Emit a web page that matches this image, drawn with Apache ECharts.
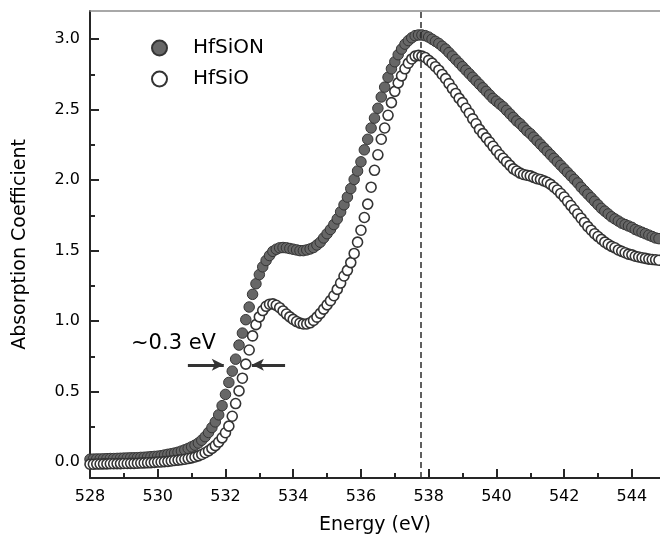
<!DOCTYPE html>
<html>
<head>
<meta charset="utf-8">
<script src="https://cdn.jsdelivr.net/npm/echarts@6/dist/echarts.min.js"></script>
<style>
  html, body { margin: 0; padding: 0; background: #fff; }
  #chart { width: 660px; height: 546px; }
</style>
</head>
<body>
<div id="chart"></div>
<script>
// photon energy (eV), 0.1 eV steps
const energy = [
  528.0, 528.1, 528.2, 528.3, 528.4, 528.5, 528.6, 528.7, 528.8, 528.9,
  529.0, 529.1, 529.2, 529.3, 529.4, 529.5, 529.6, 529.7, 529.8, 529.9,
  530.0, 530.1, 530.2, 530.3, 530.4, 530.5, 530.6, 530.7, 530.8, 530.9,
  531.0, 531.1, 531.2, 531.3, 531.4, 531.5, 531.6, 531.7, 531.8, 531.9,
  532.0, 532.1, 532.2, 532.3, 532.4, 532.5, 532.6, 532.7, 532.8, 532.9,
  533.0, 533.1, 533.2, 533.3, 533.4, 533.5, 533.6, 533.7, 533.8, 533.9,
  534.0, 534.1, 534.2, 534.3, 534.4, 534.5, 534.6, 534.7, 534.8, 534.9,
  535.0, 535.1, 535.2, 535.3, 535.4, 535.5, 535.6, 535.7, 535.8, 535.9,
  536.0, 536.1, 536.2, 536.3, 536.4, 536.5, 536.6, 536.7, 536.8, 536.9,
  537.0, 537.1, 537.2, 537.3, 537.4, 537.5, 537.6, 537.7, 537.8, 537.9,
  538.0, 538.1, 538.2, 538.3, 538.4, 538.5, 538.6, 538.7, 538.8, 538.9,
  539.0, 539.1, 539.2, 539.3, 539.4, 539.5, 539.6, 539.7, 539.8, 539.9,
  540.0, 540.1, 540.2, 540.3, 540.4, 540.5, 540.6, 540.7, 540.8, 540.9,
  541.0, 541.1, 541.2, 541.3, 541.4, 541.5, 541.6, 541.7, 541.8, 541.9,
  542.0, 542.1, 542.2, 542.3, 542.4, 542.5, 542.6, 542.7, 542.8, 542.9,
  543.0, 543.1, 543.2, 543.3, 543.4, 543.5, 543.6, 543.7, 543.8, 543.9,
  544.0, 544.1, 544.2, 544.3, 544.4, 544.5, 544.6, 544.7, 544.8
];

// HfSiON (filled circles)
const hfsion = [
  0.020, 0.021, 0.022, 0.022, 0.023, 0.024, 0.025, 0.025, 0.026, 0.027,
  0.028, 0.029, 0.030, 0.030, 0.031, 0.033, 0.034, 0.036, 0.038, 0.040,
  0.042, 0.045, 0.050, 0.055, 0.059, 0.064, 0.070, 0.078, 0.087, 0.097,
  0.108, 0.120, 0.135, 0.155, 0.180, 0.210, 0.245, 0.285, 0.335, 0.400,
  0.480, 0.565, 0.645, 0.730, 0.830, 0.915, 1.010, 1.100, 1.190, 1.265,
  1.330, 1.385, 1.430, 1.465, 1.495, 1.510, 1.520, 1.522, 1.520, 1.515,
  1.510, 1.505, 1.500, 1.500, 1.505, 1.512, 1.522, 1.540, 1.560, 1.590,
  1.620, 1.650, 1.685, 1.725, 1.775, 1.825, 1.880, 1.940, 2.005, 2.065,
  2.130, 2.215, 2.290, 2.370, 2.440, 2.510, 2.590, 2.660, 2.730, 2.790,
  2.840, 2.890, 2.930, 2.965, 2.990, 3.010, 3.025, 3.030, 3.030, 3.025,
  3.015, 3.000, 2.985, 2.970, 2.950, 2.930, 2.905, 2.880, 2.855, 2.830,
  2.805, 2.780, 2.755, 2.730, 2.705, 2.680, 2.655, 2.630, 2.605, 2.580,
  2.560, 2.540, 2.520, 2.495, 2.470, 2.445, 2.420, 2.400, 2.375, 2.350,
  2.330, 2.305, 2.280, 2.255, 2.230, 2.205, 2.180, 2.155, 2.130, 2.105,
  2.080, 2.055, 2.030, 2.005, 1.980, 1.950, 1.925, 1.900, 1.875, 1.850,
  1.825, 1.800, 1.780, 1.760, 1.740, 1.725, 1.710, 1.695, 1.685, 1.675,
  1.665, 1.650, 1.640, 1.630, 1.620, 1.610, 1.600, 1.590, 1.585
];

// HfSiO (open circles)
const hfsio = [
  -0.015, -0.015, -0.014, -0.014, -0.013, -0.013, -0.012, -0.012, -0.011, -0.011,
  -0.010, -0.010, -0.009, -0.009, -0.008, -0.007, -0.006, -0.005, -0.004, -0.002,
  0.000, 0.001, 0.003, 0.005, 0.008, 0.011, 0.014, 0.017, 0.020, 0.025,
  0.030, 0.036, 0.044, 0.054, 0.066, 0.080, 0.097, 0.117, 0.142, 0.172,
  0.208, 0.255, 0.325, 0.415, 0.505, 0.595, 0.695, 0.795, 0.895, 0.975,
  1.030, 1.075, 1.105, 1.120, 1.122, 1.112, 1.095, 1.072, 1.050, 1.030,
  1.012, 0.997, 0.986, 0.980, 0.980, 0.988, 1.005, 1.028, 1.055, 1.085,
  1.115, 1.145, 1.180, 1.225, 1.270, 1.320, 1.360, 1.415, 1.480, 1.560,
  1.645, 1.735, 1.830, 1.950, 2.070, 2.180, 2.290, 2.370, 2.460, 2.550,
  2.630, 2.690, 2.740, 2.790, 2.830, 2.860, 2.880, 2.885, 2.880, 2.870,
  2.850, 2.830, 2.805, 2.780, 2.750, 2.720, 2.685, 2.650, 2.615, 2.580,
  2.550, 2.510, 2.475, 2.435, 2.400, 2.360, 2.330, 2.300, 2.270, 2.240,
  2.210, 2.180, 2.155, 2.130, 2.105, 2.080, 2.065, 2.050, 2.040, 2.035,
  2.030, 2.020, 2.010, 2.005, 1.995, 1.985, 1.970, 1.950, 1.930, 1.905,
  1.880, 1.850, 1.820, 1.790, 1.760, 1.730, 1.700, 1.670, 1.645, 1.620,
  1.600, 1.580, 1.560, 1.545, 1.530, 1.520, 1.505, 1.495, 1.485, 1.475,
  1.470, 1.460, 1.455, 1.450, 1.445, 1.440, 1.437, 1.435, 1.432
];

const xMajor = [528, 530, 532, 534, 536, 538, 540, 542, 544];
const xMinor = [529, 531, 533, 535, 537, 539, 541, 543];
const yMajor = [0, 0.5, 1.0, 1.5, 2.0, 2.5, 3.0];
const yMinor = [0.25, 0.75, 1.25, 1.75, 2.25, 2.75];

const peakEnergy = 537.76;
// the ~0.3 eV shift arrows: [from, to] energies at one absorption level
const shiftLevel = 0.69;
const arrowLeft = [530.89, 531.95];
const arrowRight = [533.76, 532.78];

const FONT = 'DejaVu Sans';
const X_MIN = 528, X_MAX = 544.83;
const Y_MIN = -0.113, Y_MAX = 3.2;

const chart = echarts.init(document.getElementById('chart'));

function pairs(ys) {
  return energy.map((e, i) => [e, ys[i]]);
}

const axisDark = { color: '#262626', width: 2 };

const option = {
  animation: false,
  backgroundColor: '#fff',
  grid: { left: 90, right: 0, top: 11, bottom: 68 },
  legend: {
    orient: 'vertical',
    left: 146,
    top: 33,
    itemWidth: 15,
    itemHeight: 15,
    itemGap: 11,
    selectedMode: false,
    textStyle: { fontFamily: FONT, fontSize: 20, color: '#000', padding: [0, 0, 0, 21], lineHeight: 20 },
    data: ['HfSiON', 'HfSiO']
  },
  xAxis: [
    {
      type: 'value', min: X_MIN, max: X_MAX, position: 'bottom',
      name: 'Energy (eV)', nameLocation: 'middle', nameGap: 38,
      nameTextStyle: { fontFamily: FONT, fontSize: 19, color: '#000' },
      axisLine: { show: true, onZero: false, lineStyle: axisDark },
      axisTick: { show: true, inside: true, length: 9, customValues: xMajor, lineStyle: axisDark },
      axisLabel: { customValues: xMajor, margin: 11, fontFamily: FONT, fontSize: 16, color: '#000' },
      splitLine: { show: false }
    },
    {
      type: 'value', min: X_MIN, max: X_MAX, position: 'bottom',
      axisLine: { show: false, onZero: false },
      axisTick: { show: true, inside: true, length: 5, customValues: xMinor, lineStyle: axisDark },
      axisLabel: { show: false },
      splitLine: { show: false }
    },
    {
      type: 'value', min: X_MIN, max: X_MAX, position: 'top',
      axisLine: { show: true, onZero: false, lineStyle: { color: '#8c8c8c', width: 1.5 } },
      axisTick: { show: false },
      axisLabel: { show: false },
      splitLine: { show: false }
    }
  ],
  yAxis: [
    {
      type: 'value', min: Y_MIN, max: Y_MAX, position: 'left',
      name: 'Absorption Coefficient', nameLocation: 'middle', nameGap: 60,
      nameTextStyle: { fontFamily: FONT, fontSize: 19, color: '#000' },
      axisLine: { show: true, onZero: false, lineStyle: axisDark },
      axisTick: { show: true, inside: true, length: 9, customValues: yMajor, lineStyle: axisDark },
      axisLabel: {
        customValues: yMajor, margin: 10, fontFamily: FONT, fontSize: 16, color: '#000',
        formatter: (v) => v.toFixed(1)
      },
      splitLine: { show: false }
    },
    {
      type: 'value', min: Y_MIN, max: Y_MAX, position: 'left',
      axisLine: { show: false, onZero: false },
      axisTick: { show: true, inside: true, length: 5, customValues: yMinor, lineStyle: axisDark },
      axisLabel: { show: false },
      splitLine: { show: false }
    }
  ],
  series: [
    {
      name: 'HfSiON',
      type: 'scatter',
      xAxisIndex: 0, yAxisIndex: 0,
      symbol: 'circle',
      symbolSize: 10.5,
      itemStyle: { color: '#676767', borderColor: '#353535', borderWidth: 1, opacity: 1 },
      data: pairs(hfsion),
      markLine: {
        silent: true,
        symbol: ['none', 'none'],
        label: { show: false },
        lineStyle: { color: '#2b2b2b', width: 1.5, type: [6, 4] },
        data: [{ xAxis: peakEnergy }]
      }
    },
    {
      name: 'HfSiO',
      type: 'scatter',
      xAxisIndex: 0, yAxisIndex: 0,
      symbol: 'circle',
      symbolSize: 10,
      itemStyle: { color: '#ffffff', borderColor: '#333333', borderWidth: 1.6, opacity: 1 },
      data: pairs(hfsio),
      markLine: {
        silent: true,
        symbol: ['none', 'arrow'],
        symbolSize: [9, 12],
        label: { show: false },
        lineStyle: { color: '#333', width: 3, type: 'solid' },
        data: [
          [{ coord: [arrowLeft[0], shiftLevel] }, { coord: [arrowLeft[1], shiftLevel] }],
          [{ coord: [arrowRight[0], shiftLevel] }, { coord: [arrowRight[1], shiftLevel] }]
        ]
      }
    }
  ],
  graphic: [
    {
      type: 'text', left: 131, top: 333,
      style: { text: '~0.3 eV', fontFamily: FONT, fontSize: 21, fill: '#000' }
    }
  ]
};

chart.setOption(option);
</script>
</body>
</html>
